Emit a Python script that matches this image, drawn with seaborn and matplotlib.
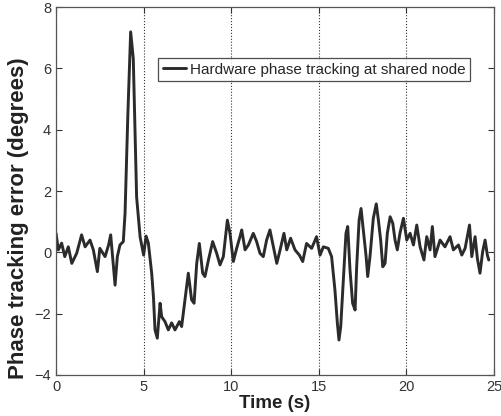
import pandas as pd
import seaborn as sns
import matplotlib.pyplot as plt

sns.set_style("ticks")
plt.rcParams['font.family'] = ['Liberation Sans', 'DejaVu Sans']

# time (s) and phase error (deg)
time_s = [
    0.0, 0.13, 0.32, 0.5, 0.7, 0.9, 1.18, 1.46, 1.66, 1.94, 2.13, 2.36, 2.5, 2.8,
    3.0, 3.12, 3.23, 3.37, 3.5, 3.65, 3.84, 3.94, 4.1, 4.26, 4.41, 4.6, 4.8,
    5.0, 5.14, 5.27, 5.46, 5.56, 5.65, 5.78, 5.94, 6.03, 6.22, 6.41, 6.6, 6.79,
    7.04, 7.17, 7.36, 7.55, 7.74, 7.88, 8.03, 8.18, 8.37, 8.5, 8.7, 8.94, 9.17,
    9.36, 9.55, 9.78, 9.93, 10.12, 10.31, 10.5, 10.6, 10.79, 10.98, 11.26, 11.45,
    11.64, 11.83, 12.02, 12.21, 12.41, 12.6, 12.79, 13.01, 13.17, 13.39, 13.64,
    13.89, 14.08, 14.3, 14.59, 14.87, 15.07, 15.26, 15.54, 15.73, 15.92, 16.06,
    16.15, 16.25, 16.4, 16.55, 16.65, 16.78, 16.93, 17.07, 17.16, 17.3, 17.41,
    17.54, 17.7, 17.79, 17.92, 18.11, 18.28, 18.4, 18.53, 18.65, 18.78, 18.91,
    19.07, 19.22, 19.35, 19.48, 19.63, 19.83, 20.02, 20.21, 20.4, 20.59, 20.78,
    21.0, 21.16, 21.35, 21.48, 21.63, 21.92, 22.2, 22.49, 22.68, 22.97, 23.16,
    23.35, 23.6, 23.73, 23.92, 24.05, 24.2, 24.35, 24.49, 24.62, 24.7,
]
error_deg = [
    0.62, 0.08, 0.3, -0.14, 0.18, -0.36, -0.03, 0.57, 0.18, 0.4, 0.08, -0.63, 0.13, -0.14,
    0.24, 0.57, -0.14, -1.07, -0.14, 0.24, 0.35, 1.27, 4.5, 7.19, 6.32, 1.8, 0.5,
    -0.09, 0.53, 0.3, -0.68, -1.45, -2.53, -2.8, -1.66, -2.1, -2.26, -2.53, -2.3, -2.53,
    -2.26, -2.42, -1.55, -0.68, -1.55, -1.66, -0.36, 0.29, -0.68, -0.79, -0.25, 0.35, -0.03,
    -0.41, -0.14, 1.05, 0.62, -0.3, 0.13, 0.51, 0.73, 0.08, 0.24, 0.62, 0.35,
    -0.03, -0.14, 0.4, 0.73, 0.18, -0.36, 0.08, 0.62, 0.08, 0.46, 0.08,
    -0.09, -0.3, 0.29, 0.13, 0.51, -0.09, 0.18, 0.13, -0.14, -1.23, -2.32,
    -2.86, -2.42, -0.9, 0.62, 0.84, -0.58, -1.66, -1.88, -0.47, 1.05, 1.43,
    0.73, -0.14, -0.79, -0.14, 1.11, 1.58, 1.05, 0.4, -0.47, -0.36, 0.62,
    1.16, 0.95, 0.4, 0.08, 0.62, 1.11, 0.4, 0.62, 0.24, 0.89, 0.18,
    -0.25, 0.51, 0.08, 0.84, -0.14, 0.4, 0.18, 0.51, 0.08, 0.24, -0.09,
    0.13, 0.89, -0.14, 0.51, -0.2, -0.68, 0.02, 0.4, -0.09, -0.25,
]

df = pd.DataFrame({"time": time_s, "error": error_deg})

fig = plt.figure(figsize=(5.02, 4.16), dpi=100)
ax = fig.add_axes([0.1116, 0.0986, 0.8725, 0.8845])

sns.lineplot(data=df, x="time", y="error", ax=ax, color="#2b2b2b", linewidth=2.1,
             label="Hardware phase tracking at shared node")

ax.set_xlim(0, 25)
ax.set_ylim(-4, 8)
ax.set_xticks([0, 5, 10, 15, 20, 25])
ax.set_yticks([-4, -2, 0, 2, 4, 6, 8])
ax.xaxis.grid(True, linestyle=":", color="#333333", linewidth=0.8)
ax.tick_params(direction="in", top=True, right=True, labelsize=10.5, colors="#333333",
               labelcolor="#333333", length=4)
for s in ax.spines.values():
    s.set_color("#555555")
    s.set_linewidth(0.9)

ax.set_xlabel("Time (s)", fontsize=13.5, fontweight="bold", labelpad=1, color="#222222")
ax.set_ylabel("Phase tracking error (degrees)", fontsize=16, fontweight="bold",
              color="#222222")
ax.yaxis.set_label_coords(-0.062, 0.427)

leg = ax.legend(loc="upper right", bbox_to_anchor=(0.945, 0.861), fontsize=11,
                frameon=True, fancybox=False, handlelength=1.5, handletextpad=0.25,
                borderpad=0.3, borderaxespad=0)
leg.get_frame().set_edgecolor("#222222")
leg.get_frame().set_linewidth(0.9)

fig.savefig("out.png", dpi=100)
